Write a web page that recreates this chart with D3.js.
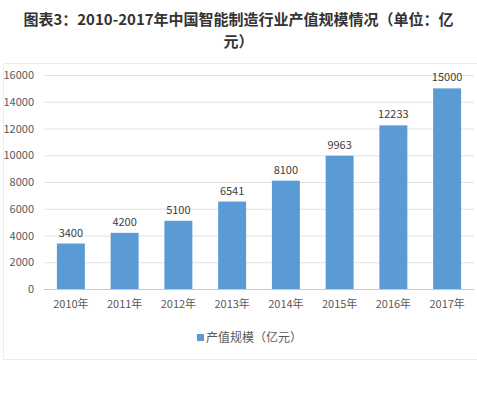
<!DOCTYPE html>
<html>
<head>
<meta charset="utf-8">
<script src="https://cdn.jsdelivr.net/npm/d3@7"></script>
<style>
  body { margin: 0; background: #fff; }
  svg { display: block; font-family: "Noto Sans CJK SC", "Microsoft YaHei", sans-serif; }
</style>
</head>
<body>
<div id="chart"></div>
<script>
const years = ["2010年", "2011年", "2012年", "2013年", "2014年", "2015年", "2016年", "2017年"];
const values = [3400, 4200, 5100, 6541, 8100, 9963, 12233, 15000];
const yTicks = [0, 2000, 4000, 6000, 8000, 10000, 12000, 14000, 16000];
const titleLines = ["图表3：2010-2017年中国智能制造行业产值规模情况（单位：亿", "元）"];
const seriesName = "产值规模（亿元）";

const width = 477, height = 399;
const margin = { top: 75, right: 3, bottom: 110, left: 44 };
const innerWidth = width - margin.left - margin.right;
const innerHeight = height - margin.top - margin.bottom;

const svg = d3.select("#chart").append("svg").attr("width", width).attr("height", height);

// faint chart-area border
svg.append("rect")
  .attr("x", 3.5).attr("y", 63.5)
  .attr("width", width).attr("height", 296)
  .attr("fill", "none")
  .attr("stroke", "#ebebf0");

svg.append("g").selectAll("text")
  .data(titleLines)
  .enter()
  .append("text")
  .attr("x", width / 2)
  .attr("y", (d, i) => 25 + i * 22)
  .attr("text-anchor", "middle")
  .attr("font-size", 15)
  .attr("font-weight", "bold")
  .attr("fill", "#333")
  .text(d => d);

const xScale = d3.scaleBand().domain(years).range([0, innerWidth]).paddingInner(0.48).paddingOuter(0.24);
const yScale = d3.scaleLinear().domain([0, 16000]).range([innerHeight, 0]);

const chart = svg.append("g").attr("transform", `translate(${margin.left},${margin.top})`);

chart.append("g")
  .selectAll("line")
  .data(yTicks)
  .enter()
  .append("line")
  .attr("x1", 0)
  .attr("x2", innerWidth)
  .attr("y1", d => yScale(d) + 0.5)
  .attr("y2", d => yScale(d) + 0.5)
  .attr("stroke", d => d === 0 ? "#c8c8c8" : "#e2e2e2");

const yAxis = d3.axisLeft(yScale).tickValues(yTicks).tickFormat(d3.format("d")).tickSize(0).tickPadding(10);
chart.append("g").call(yAxis)
  .attr("font-family", null)
  .attr("font-size", 11)
  .call(g => g.select(".domain").remove())
  .selectAll("text")
  .attr("fill", "#595959");

const xAxis = d3.axisBottom(xScale).tickSize(0).tickPadding(11);
chart.append("g").attr("transform", `translate(0,${innerHeight})`).call(xAxis)
  .attr("font-family", null)
  .attr("font-size", 11)
  .call(g => g.select(".domain").remove())
  .selectAll("text")
  .attr("fill", "#595959");

chart.selectAll(".bar")
  .data(values)
  .enter()
  .append("rect")
  .attr("class", "bar")
  .attr("x", (d, i) => xScale(years[i]))
  .attr("width", xScale.bandwidth())
  .attr("y", d => yScale(d))
  .attr("height", d => innerHeight - yScale(d))
  .attr("fill", "#5b9bd5");

chart.selectAll(".label")
  .data(values)
  .enter()
  .append("text")
  .attr("class", "label")
  .attr("x", (d, i) => xScale(years[i]) + xScale.bandwidth() / 2)
  .attr("y", d => yScale(d) - 7)
  .attr("text-anchor", "middle")
  .attr("font-size", 11)
  .attr("fill", "#404040")
  .text(d => d);

const legend = svg.append("g").attr("transform", `translate(197,${height - 61})`);
legend.append("rect").attr("x", 0).attr("y", -4).attr("width", 7).attr("height", 7).attr("fill", "#5b9bd5");
legend.append("text").attr("x", 9).attr("y", 0).attr("dy", "0.35em")
  .attr("font-size", 12).attr("fill", "#595959").text(seriesName);
</script>
</body>
</html>
